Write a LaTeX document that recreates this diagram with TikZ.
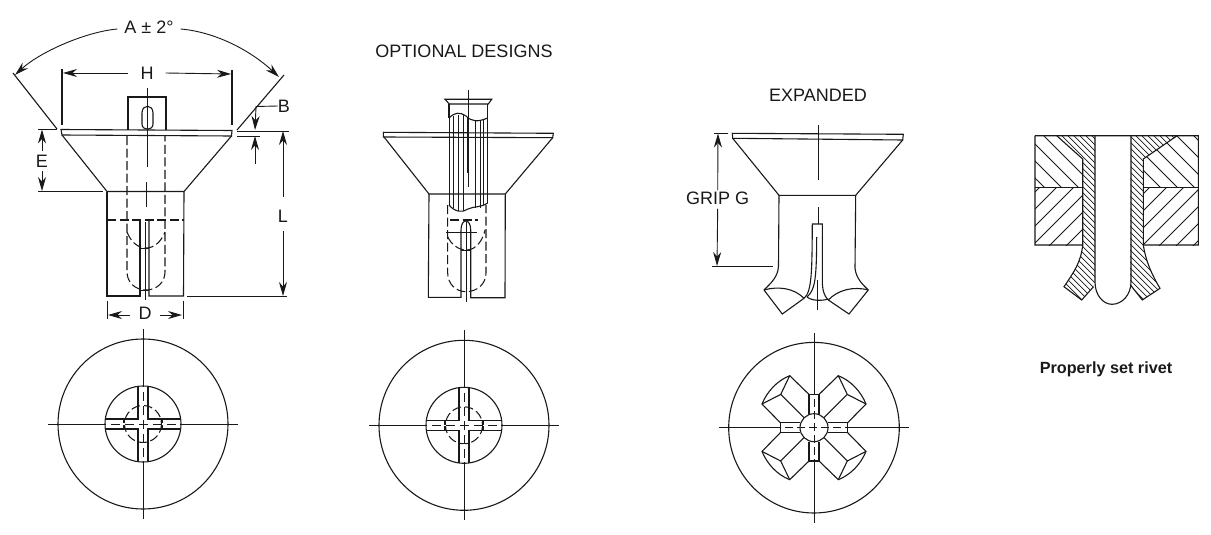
\documentclass[tikz,border=0pt]{standalone}
\usepackage{fontspec}
\setmainfont{Liberation Sans}
\usetikzlibrary{arrows.meta}
\tikzset{
  part/.style={line width=1.1pt,black!90},
  thinline/.style={line width=0.8pt,black!90},
  hidden/.style={line width=1.05pt,black!90,dash pattern=on 9pt off 3.5pt},
  dimline/.style={line width=0.9pt,black!90,-{Stealth[length=14pt,width=8pt]}},
  dimlabel/.style={font=\fontsize{18}{20}\selectfont,black!90,inner sep=0pt},
}
\begin{document}
\begin{tikzpicture}[x=1pt,y=-1pt]
\useasboundingbox (0,0) rectangle (1211,535);
% plain rivet
\draw[part] (62,135)--(61,129.5)--(232,130.5)--(231.5,136)--cycle;
\draw[part] (62,135)--(107,191.5)--(184,191.5)--(231.5,136);
\draw[part] (107,191.5)--(107,296)--(140,296)--(140,220);
\draw[part] (184,191.5)--(183.5,296)--(149,296)--(149,220);
\draw[part] (128,129.5)--(128,97)--(166,97)--(166,130);
\draw[part] (142,113) .. controls (142,104) and (153,104) .. (153,113)--(153,124) .. controls (153,131) and (142,131) .. (142,124)--cycle;
\draw[hidden] (107,220)--(184,220);
\draw[hidden] (127,136)--(127,272) .. controls (127,282) and (135,290) .. (146,290) .. controls (157,290) and (165,282) .. (165,272)--(165,136);
\draw[hidden] (127,232) .. controls (131,242) and (138,248) .. (146,248) .. controls (154,248) and (161,242) .. (165,232);
\draw[thinline] (147,88)--(147,167) (146.5,182)--(146.5,207) (145.5,222)--(145.5,300);
\draw[thinline] (140,248)--(149,248) (140,290)--(149,290);
% dimensions of the plain rivet
\node[dimlabel] (dimA) at (149,27) {A ± 2°};
\coordinate (angleL) at (15,75);
\coordinate (angleR) at (279,77);
\draw[part] (13,73)--(57,129) (284,75)--(237,130);
\draw[dimline] (dimA.west)++(-7,2) .. controls (85,32) and (40,52) .. (angleL);
\draw[dimline] (dimA.east)++(7,2) .. controls (215,32) and (250,50) .. (angleR);
\node[dimlabel] (dimH) at (147,73) {H};
\coordinate (headL) at (63,73);
\coordinate (headR) at (231,74);
\draw[part] (62,69)--(62,125) (232,70)--(232,125);
\draw[dimline] (dimH.west)++(-12,0) -- (headL);
\draw[dimline] (dimH.east)++(12,0) -- (headR);
\node[dimlabel] (dimB) at (284,106) {B};
\coordinate (flangeT) at (255,130);
\coordinate (flangeB) at (255,136);
\draw[thinline] (237,131)--(289,131) (237,136)--(260,136);
\draw[dimline] (dimB.west)--(256,106.5)--(flangeT);
\draw[dimline] (255,164)--(flangeB);
\node[dimlabel] (dimE) at (42,161) {E};
\coordinate (coneT) at (42,129.5);
\coordinate (coneB) at (42,191);
\draw[thinline] (38,129)--(57,129) (38,191)--(103,191);
\draw[dimline] (dimE.north)++(0,-4) -- (coneT);
\draw[dimline] (dimE.south)++(0,4) -- (coneB);
\node[dimlabel] (dimL) at (283,216.5) {L};
\coordinate (lenT) at (283,131);
\coordinate (lenB) at (283,296);
\draw[thinline] (187,296)--(287,296);
\draw[dimline] (dimL.north)++(0,-13) -- (lenT);
\draw[dimline] (dimL.south)++(0,8) -- (lenB);
\node[dimlabel] (dimD) at (145,313.5) {D};
\coordinate (bodyL) at (108,315);
\coordinate (bodyR) at (182,315);
\draw[thinline] (107,301)--(107,319) (183,301)--(183,319);
\draw[dimline] (dimD.west)++(-8,1.5) -- (bodyL);
\draw[dimline] (dimD.east)++(8,1.5) -- (bodyR);
% optional design
\node[dimlabel] (optional) at (464,51) {OPTIONAL DESIGNS};
\draw[part] (383.5,137)--(383.3,132.3)--(553.3,133.3)--(552.7,137.7)--cycle;
\draw[part] (384,137)--(429,194)--(505.3,194)--(552.7,137.7);
\draw[part] (429,194)--(428.3,297.3)--(461,297.3)--(461,230) .. controls (461,218) and (470.7,218) .. (470.7,230)--(470.7,297.7)--(505,297.7)--(505.3,194);
\draw[part] (445,99.3)--(491.7,99.3)--(488.3,104)--(449.3,104)--cycle;
\draw[part] (449,104)--(449,118) (487.7,104)--(487.7,118);
\draw[part] (449,118) .. controls (455,112) and (460,112) .. (466,116) .. controls (472,122) and (478,122) .. (487.7,118);
\draw[part] (449,205) .. controls (455,212) and (462,213) .. (468,209) .. controls (474,206) and (480,208) .. (487.7,203);
\foreach \x/\t/\b in {449/118/205,453.5/116/208,458/115/211,463/115/211,467/117/173,475/121/208,480/121/208,483.5/120/205,487.7/118/203}{
  \draw[thinline] (\x,\t)--(\x,\b);
}
\draw[hidden] (447.7,205)--(447.7,273) .. controls (447.7,284) and (456,291.7) .. (466,291.7) .. controls (477,291.7) and (486,284) .. (486,273)--(486,205);
\draw[hidden] (447.7,236.7) .. controls (451,244) and (458,250) .. (466.7,250) .. controls (476,250) and (483,240) .. (485,230);
\draw[hidden] (450,220)--(478,220);
\draw[thinline] (446,232.7)--(477,232.7) (461,250)--(470.7,250);
\draw[thinline] (468.3,90)--(468.3,187) (466,222)--(466,302);
% expanded rivet
\node[dimlabel] (expanded) at (818,95) {EXPANDED};
\draw[part] (732.7,138.3)--(732.3,133.3)--(903.3,134.3)--(902.7,140)--cycle;
\draw[part] (732.7,138.3)--(779,195.3)--(855.7,195.3)--(902.7,140);
\draw[part] (779,195.3)--(778.5,266) .. controls (778,277) and (771,283) .. (764,290);
\draw[part] (855.7,195.3)--(855,268) .. controls (856,278) and (862,284) .. (868.3,290);
\draw[part] (764,290)--(782.3,314)--(804,298.3);
\draw[part] (868.3,290)--(849,314)--(828.3,300);
\draw[part] (764,290) .. controls (778,286) and (794,288) .. (804,298.3);
\draw[part] (868.3,290) .. controls (853,286) and (838,290) .. (828.3,300);
\draw[part] (804,298.3) .. controls (812,292) and (812,270) .. (812.3,224)--(822.3,224)--(822.3,280) .. controls (822.3,290) and (824,296) .. (828.3,300);
\draw[part] (807,297) .. controls (815,290) and (816.5,280) .. (816.7,237);
\draw[part] (807,297) .. controls (812,301) and (822,301) .. (828.3,299);
\draw[thinline] (818.7,125)--(818.7,180) (818.7,207)--(818.7,224) (817,280)--(817,310);
\node[dimlabel] (dimG) at (717.7,198) {GRIP G};
\coordinate (gripT) at (718,133.5);
\coordinate (gripB) at (717,266);
\draw[thinline] (714,133.3)--(727.7,133.3) (712,266)--(773,266);
\draw[dimline] (dimG.north)++(0,-1) -- (gripT);
\draw[dimline] (dimG.south)++(0,4) -- (gripB);
% end views of the rivets
\foreach \cx/\cy in {143/424,464/425.3}{
\begin{scope}[shift={(\cx,\cy)}]
\draw[part] (0,0) circle (85);
\draw[part] (0,0) circle (38);
\draw[hidden] (0,0) circle (18.5);
\draw[thinline] (-95,0)--(95,0) (0,-95)--(0,95);
\foreach \s in {1,-1}{
  \draw[part] (\s*37.6,-5)--(\s*5,-5)--(\s*5,-37.6);
  \draw[part] (\s*37.6,5)--(\s*5,5)--(\s*5,37.6);
  \draw[part] (\s*19,-5)--(\s*19,5);
}
\draw[line width=1.2pt,white,dash pattern=on 5pt off 9pt] (-37,0)--(37,0) (0,-37)--(0,37);
\end{scope}
}
\begin{scope}[shift={(814,427.7)}]
\draw[part] (0,0) circle (85.3);
\draw[part] (0,0) circle (14);
\draw[thinline] (-95,0)--(95,0) (0,-95)--(0,95);
\foreach \sx/\sy in {1/1,1/-1,-1/1,-1/-1}{
\begin{scope}[xscale=\sx,yscale=\sy]
  \draw[part] (5,-14)--(5,-33.3) (33.7,-5)--(14,-5);
  \draw[part] (5,-33.3)--(24.3,-52) .. controls (37,-47) and (47,-36) .. (52,-23.7)--(33.7,-5);
  \draw[part] (24.3,-52)--(33.3,-33.3)--(52,-23.7) (33.3,-33.3)--(10,-10);
  \draw[part] (33.7,-5)--(33.7,5);
  \draw[part] (5,-33.3)--(-5,-33.3);
\end{scope}
}
\draw[line width=1.2pt,white,dash pattern=on 4pt off 8pt] (-33,0)--(33,0) (0,-33)--(0,33);
\end{scope}
% properly set rivet, in section
\begin{scope}
\clip (1035,135.7)--(1056.7,135.7)--(1082.7,159)--(1082.7,187.7)--(1035,187.7)--cycle;
\foreach \i in {0,1,...,5}{\draw[thinline] (857+\i*17,0)--(1257+\i*17,400);}
\end{scope}
\begin{scope}
\clip (1176.7,136)--(1198.3,136)--(1198.3,187.7)--(1143.3,187.7)--(1143.3,159)--cycle;
\foreach \i in {0,1,...,7}{\draw[thinline] (956+\i*17,0)--(1356+\i*17,400);}
\end{scope}
\begin{scope}
\clip (1035,187.7) rectangle (1082.7,245);
\foreach \i in {0,1,...,8}{\draw[thinline] (1040+\i*17,170)--(960+\i*17,250);}
\end{scope}
\begin{scope}
\clip (1143.3,187.7) rectangle (1198.3,245);
\foreach \i in {0,1,...,8}{\draw[thinline] (1150+\i*17,170)--(1070+\i*17,250);}
\end{scope}
\begin{scope}
\clip (1056.7,135.7)--(1095,135.7)--(1095,286.7)--(1093.3,286.7)--(1081.7,300)--(1064,286.7) .. controls (1074,272) and (1081,262) .. (1082.7,245)--(1082.7,159)--cycle;
\foreach \i in {0,1,...,32}{\draw[line width=0.7pt,black!90] (770+\i*6,0)--(1170+\i*6,400);}
\end{scope}
\begin{scope}
\clip (1131,135.7)--(1176.7,136)--(1143.3,159)--(1143.3,245) .. controls (1146,262) and (1152,275) .. (1160,288.3)--(1142.3,300)--(1130,285)--cycle;
\foreach \i in {0,1,...,36}{\draw[line width=0.7pt,black!90] (838+\i*6,0)--(1238+\i*6,400);}
\end{scope}
\draw[part] (1035,135.7)--(1198.3,135.7)--(1198.3,245)--(1143.3,245)--(1143.3,159)--(1176.7,136);
\draw[part] (1035,135.7)--(1035,245)--(1082.7,245)--(1082.7,159)--(1056.7,135.7);
\draw[part] (1035,187.7)--(1082.7,187.7) (1143.3,187.7)--(1198.3,187.7);
\draw[part] (1095,135.7)--(1095,282) .. controls (1095,295) and (1103,304.3) .. (1112,304.3) .. controls (1122,304.3) and (1131,295) .. (1131,282)--(1131,135.7);
\draw[part] (1082.7,245) .. controls (1081,262) and (1074,272) .. (1064,286.7)--(1081.7,300)--(1093.5,286.7);
\draw[part] (1143.3,245) .. controls (1146,262) and (1152,275) .. (1160,288.3)--(1142.3,300)--(1130.5,285);
\node[dimlabel,font=\fontsize{16.2}{18}\selectfont\bfseries] (caption) at (1106,369) {Properly set rivet};
\end{tikzpicture}
\end{document}
